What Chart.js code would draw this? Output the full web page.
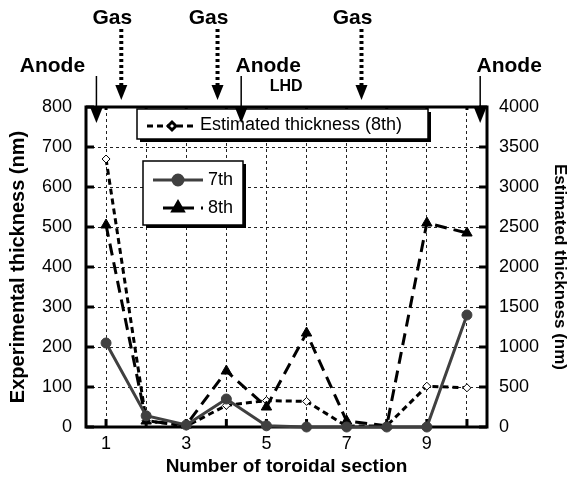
<!DOCTYPE html>
<html>
<head>
<meta charset="utf-8">
<style>
  html, body { margin: 0; padding: 0; background: #fff; }
  #wrap { width: 571px; height: 479px; }
</style>
</head>
<body>
<div id="wrap"><canvas id="thicknessChart"></canvas></div>
<script src="https://cdn.jsdelivr.net/npm/chart.js"></script>
<script>
// toroidal sections and measured / estimated thickness (nm)
var sections = ['1', '2', '3', '4', '5', '6', '7', '8', '9', '10'];
var thick7th = [210, 28, 5, 70, 3, 0, 0, 0, 0, 280];
var thick8th = [505, 15, 5, 140, 50, 235, 15, 3, 510, 485];
var estimated8th = [3350, 80, 10, 270, 330, 320, 10, 15, 510, 490];

// where the gas inlets and anodes sit, in section units
var gasSections = [1.38, 3.78, 7.37];
var anodeSections = [0.76, 4.37, 10.33];
var anodeTextShift = [-44, 27, 29];

Chart.defaults.font.family = '"Liberation Sans", Arial, sans-serif';
Chart.defaults.color = '#000';

var FONT = '"Liberation Sans", Arial, sans-serif';

function shadowBox(ctx, x, y, w, h) {
    ctx.fillStyle = '#000';
    ctx.fillRect(x + 3, y + 3, w, h);
    ctx.fillStyle = '#fff';
    ctx.fillRect(x, y, w, h);
    ctx.lineWidth = 1.5;
    ctx.strokeStyle = '#000';
    ctx.strokeRect(x, y, w, h);
}

function legendSample(ctx, ds, x0, x1, xp, y) {
    ctx.save();
    ctx.strokeStyle = ds.borderColor;
    ctx.lineWidth = ds.borderWidth;
    ctx.setLineDash(ds.borderDash || []);
    ctx.beginPath();
    ctx.moveTo(x0, y);
    ctx.lineTo(x1, y);
    ctx.stroke();
    ctx.setLineDash([]);
    ctx.fillStyle = ds.pointBackgroundColor || ds.backgroundColor;
    ctx.strokeStyle = ds.pointBorderColor || ds.borderColor;
    Chart.helpers.drawPoint(ctx, {
        pointStyle: ds.pointStyle, radius: ds.pointRadius, rotation: 0,
        borderWidth: ds.pointBorderWidth || 1
    }, xp, y);
    ctx.restore();
}

var frameAndTicks = {
    id: 'frameAndTicks',
    beforeDatasetsDraw: function (chart) {
        var ctx = chart.ctx, a = chart.chartArea;
        var x = chart.scales.x, y = chart.scales.y, y1 = chart.scales.y1;
        ctx.save();
        ctx.strokeStyle = '#000';
        ctx.lineWidth = 3;
        ctx.strokeRect(a.left, a.top, a.right - a.left, a.bottom - a.top);
        ctx.beginPath();
        y.ticks.forEach(function (t) {
            var py = y.getPixelForValue(t.value);
            ctx.moveTo(a.left, py); ctx.lineTo(a.left + 8, py);
        });
        y1.ticks.forEach(function (t) {
            var py = y1.getPixelForValue(t.value);
            ctx.moveTo(a.right, py); ctx.lineTo(a.right - 8, py);
        });
        x.ticks.forEach(function (t, i) {
            var px = x.getPixelForValue(i);
            ctx.moveTo(px, a.bottom); ctx.lineTo(px, a.bottom - 8);
            ctx.moveTo(px, a.top); ctx.lineTo(px, a.top + 3);
        });
        ctx.stroke();
        ctx.restore();
    },
    afterDraw: function (chart) {
        var ctx = chart.ctx, a = chart.chartArea, x = chart.scales.x;
        var sets = chart.data.datasets;
        ctx.save();

        // legend boxes
        ctx.font = '18px ' + FONT;
        ctx.textBaseline = 'middle';
        ctx.textAlign = 'left';
        var lx = a.left + 51, ly = a.top + 2;
        shadowBox(ctx, lx, ly, 291, 30);
        legendSample(ctx, sets[2], lx + 10, lx + 60, lx + 35, ly + 17);
        ctx.fillStyle = '#000';
        ctx.fillText(sets[2].label, lx + 63, ly + 16);

        var bx = a.left + 57, by = a.top + 54;
        shadowBox(ctx, bx, by, 100, 64);
        legendSample(ctx, sets[0], bx + 10, bx + 60, bx + 35, by + 19);
        legendSample(ctx, sets[1], bx + 20, bx + 60, bx + 35, by + 47);
        ctx.fillStyle = '#000';
        ctx.fillText(sets[0].label, bx + 65, by + 19);
        ctx.fillText(sets[1].label, bx + 65, by + 47);

        // gas inlets
        ctx.textAlign = 'center';
        ctx.font = 'bold 21px ' + FONT;
        gasSections.forEach(function (s) {
            var px = x.getPixelForValue(s - 1);
            ctx.fillStyle = '#000';
            ctx.fillText('Gas', px - 9, 18);
            ctx.strokeStyle = '#000';
            ctx.lineWidth = 4;
            ctx.setLineDash([3, 3]);
            ctx.beginPath();
            ctx.moveTo(px, 29); ctx.lineTo(px, 86);
            ctx.stroke();
            ctx.setLineDash([]);
            ctx.beginPath();
            ctx.moveTo(px - 6, 85); ctx.lineTo(px + 6, 85); ctx.lineTo(px, 100);
            ctx.closePath();
            ctx.fill();
        });

        // anodes
        anodeSections.forEach(function (s, i) {
            var px = x.getPixelForValue(s - 1);
            ctx.fillStyle = '#000';
            ctx.fillText('Anode', px + anodeTextShift[i], 66);
            ctx.strokeStyle = '#000';
            ctx.lineWidth = 1.5;
            ctx.beginPath();
            ctx.moveTo(px, 76); ctx.lineTo(px, 110);
            ctx.stroke();
            ctx.beginPath();
            ctx.moveTo(px - 6, 108); ctx.lineTo(px + 6, 108); ctx.lineTo(px, 123);
            ctx.closePath();
            ctx.fill();
        });
        ctx.font = 'bold 16px ' + FONT;
        ctx.fillText('LHD', x.getPixelForValue(anodeSections[1] - 1) + 45, 87);
        ctx.restore();
    }
};

var ctx = document.getElementById('thicknessChart').getContext('2d');
var thicknessChart = new Chart(ctx, {
    type: 'line',
    data: {
        labels: sections,
        datasets: [{
            label: '7th',
            data: thick7th,
            yAxisID: 'y',
            borderColor: '#404040',
            backgroundColor: '#404040',
            borderWidth: 3,
            pointStyle: 'circle',
            pointRadius: 5,
            pointBorderWidth: 1,
            tension: 0,
            clip: false
        }, {
            label: '8th',
            data: thick8th,
            yAxisID: 'y',
            borderColor: '#000',
            backgroundColor: '#000',
            borderWidth: 3,
            borderDash: [12, 7],
            pointStyle: 'triangle',
            pointRadius: 6,
            pointBorderWidth: 1,
            tension: 0,
            clip: false
        }, {
            label: 'Estimated thickness (8th)',
            data: estimated8th,
            yAxisID: 'y1',
            borderColor: '#000',
            backgroundColor: '#fff',
            pointBackgroundColor: '#fff',
            pointBorderColor: '#000',
            borderWidth: 3,
            borderDash: [6, 4],
            pointStyle: 'rectRot',
            pointRadius: 4,
            pointBorderWidth: 1,
            tension: 0,
            clip: false
        }]
    },
    options: {
        responsive: true,
        maintainAspectRatio: false,
        devicePixelRatio: 1,
        animation: false,
        layout: { padding: { top: 107 } },
        plugins: {
            legend: { display: false },
            tooltip: { enabled: false }
        },
        scales: {
            x: {
                type: 'category',
                offset: true,
                grid: { offset: false, color: '#222', lineWidth: 1, drawTicks: false },
                border: { display: false, dash: [3, 3] },
                ticks: {
                    autoSkip: false, maxRotation: 0, padding: 6,
                    font: { size: 18 },
                    callback: function (v, i) { return i % 2 === 0 ? sections[i] : ''; }
                },
                title: {
                    display: true, text: 'Number of toroidal section',
                    font: { size: 19, weight: 'bold' }, padding: { top: 0, bottom: 1 }
                },
                afterFit: function (s) { s.height = 52; }
            },
            y: {
                position: 'left',
                min: 0, max: 800,
                grid: { color: '#222', lineWidth: 1, drawTicks: false },
                border: { display: false, dash: [3, 3] },
                ticks: {
                    stepSize: 100, padding: 14, font: { size: 18 },
                    callback: function (v) { return String(v); }
                },
                title: {
                    display: true, text: 'Experimental thickness (nm)',
                    font: { size: 20, weight: 'bold' }, padding: { top: 6, bottom: 0 }
                },
                afterFit: function (s) { s.width = 86; }
            },
            y1: {
                position: 'right',
                min: 0, max: 4000,
                grid: { drawOnChartArea: false, drawTicks: false },
                border: { display: false },
                ticks: {
                    stepSize: 500, padding: 12, font: { size: 18 },
                    callback: function (v) { return String(v); }
                },
                title: {
                    display: true, text: 'Estimated thickness (nm)',
                    font: { size: 17, weight: 'bold' }, padding: { top: 1, bottom: 0 }
                },
                afterFit: function (s) { s.width = 84; }
            }
        }
    },
    plugins: [frameAndTicks]
});
</script>
</body>
</html>
